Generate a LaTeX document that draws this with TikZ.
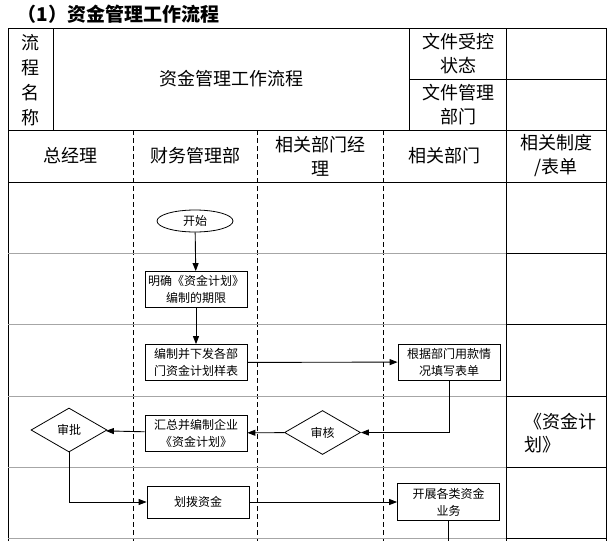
\documentclass[tikz,border=0pt]{standalone}
\usepackage{fontspec}
\setmainfont{Noto Sans CJK SC}
\usetikzlibrary{arrows.meta,shapes.geometric}

\begin{document}
\begin{tikzpicture}[x=1pt,y=-1pt,
  box/.style={draw,line width=0.8pt,minimum width=102pt,minimum height=36pt,align=center,inner sep=1pt,font=\fontsize{12}{17}\selectfont},
  startnode/.style={draw,ellipse,line width=0.8pt,minimum width=76pt,minimum height=22pt,inner sep=0pt,font=\fontsize{12}{14}\selectfont},
  decision/.style={draw,diamond,line width=0.8pt,minimum width=76pt,minimum height=44pt,inner sep=0pt,font=\fontsize{12}{14}\selectfont},
  headtext/.style={align=center,font=\fontsize{18}{24}\selectfont},
  flow/.style={line width=0.9pt,-{Triangle[length=8pt,width=6pt]}},
  lane/.style={line width=0.7pt,dash pattern=on 5pt off 3pt},
  rowline/.style={gray!70,line width=0.7pt}]
\useasboundingbox (0,0) rectangle (609,541);

% title
\node[anchor=west,font=\fontsize{19}{22}\selectfont\bfseries] (title) at (14,14) {（1）资金管理工作流程};

% table frame
\draw[line width=0.8pt] (8,541) -- (8,28) -- (606,28) -- (606,541);
\draw[line width=0.8pt] (53,28) -- (53,130);
\draw[line width=0.8pt] (409,28) -- (409,130);
\draw[line width=0.8pt] (506,28) -- (506,541);
\draw[line width=0.8pt] (409,79) -- (606,79);
\draw[line width=0.8pt] (8,130) -- (606,130);
\draw[line width=0.8pt] (8,182) -- (606,182);
\foreach \xx in {133,257,383}
  \draw[lane] (\xx,130) -- (\xx,541);
\foreach \yy in {253,324,396,467,538}{
  \draw[rowline] (8,\yy) -- (506,\yy);
  \draw[line width=0.8pt] (506,\yy) -- (606,\yy);
}

% header texts
\node[headtext,font=\fontsize{18}{25}\selectfont] (name) at (30.5,80) {流\\程\\名\\称};
\node[headtext] (flowname) at (231,79) {资金管理工作流程};
\node[headtext] (status) at (458,54) {文件受控\\状态};
\node[headtext] (dept) at (458,105) {文件管理\\部门};

% lane headers
\node[headtext] (gm) at (70,156) {总经理};
\node[headtext] (fin) at (195,156) {财务管理部};
\node[headtext] (mgr) at (320,156) {相关部门经\\理};
\node[headtext] (rel) at (444,156) {相关部门};
\node[headtext] (rules) at (556,156) {相关制度\\/表单};

% flow
\node[startnode] (start) at (195,221) {开始};
\node[box] (limit) at (196,289.5) {明确《资金计划》\\编制的期限};
\node[box] (sample) at (196,362.5) {编制并下发各部\\门资金计划样表};
\node[box] (fill) at (449,362) {根据部门用款情\\况填写表单};
\node[decision] (review) at (322.5,432.5) {审核};
\node[box] (plan) at (196,433) {汇总并编制企业\\《资金计划》};
\node[decision] (approve) at (69,430) {审批};
\node[box,minimum height=32pt] (allot) at (198,502) {划拨资金};
\node[box,minimum height=37pt] (work) at (448.5,502) {开展各类资金\\业务};
\coordinate (next) at (448.5,541);

\draw[flow] (start) -- (limit);
\draw[flow] (limit) -- (sample);
\draw[flow] (sample) -- (fill);
\draw[flow] (fill.south) |- (review.east);
\draw[flow] (review) -- (plan);
\draw[flow] (plan) -- (approve);
\draw[flow] (approve.south) |- (allot.west);
\draw[flow] (allot) -- (work);
\draw[line width=0.9pt] (work.south) -- (next);

% rules column
\node[anchor=north west,align=left,font=\fontsize{18}{23}\selectfont] (fundplan) at (521,410) {《资金计\\划》};
\end{tikzpicture}
\end{document}
